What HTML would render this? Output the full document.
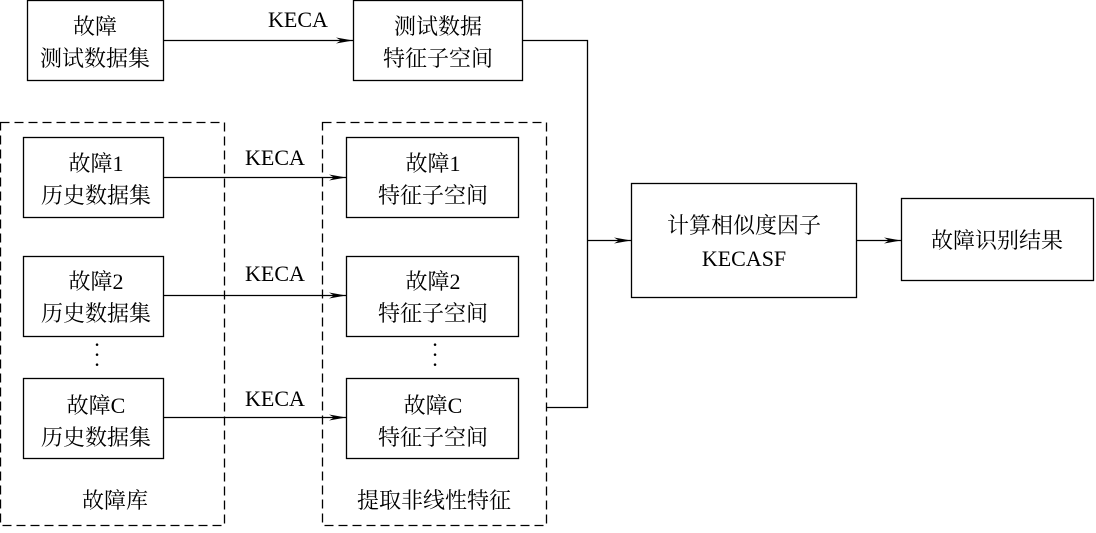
<!DOCTYPE html>
<html><head><meta charset="utf-8"><style>
body{margin:0;background:#fff;}
</style></head><body>
<svg width="1096" height="528" viewBox="0 0 1096 528">
<defs><marker id="a" markerWidth="18" markerHeight="8" refX="17" refY="4" orient="auto" markerUnits="userSpaceOnUse"><path d="M0,1 L17,4 L0,7 L5,4 Z" fill="#000"/></marker></defs>
<g fill="none" stroke="#000" stroke-width="1.3">
<rect x="27.5" y="0.5" width="136" height="80"/>
<rect x="353.5" y="0.5" width="169" height="80"/>
<rect x="0.5" y="122.5" width="224" height="403" stroke-dasharray="9,5"/>
<rect x="322.5" y="122.5" width="224" height="403" stroke-dasharray="9,5"/>
<rect x="23.5" y="137.5" width="140" height="80"/>
<rect x="23.5" y="256.5" width="140" height="80"/>
<rect x="23.5" y="378.5" width="140" height="80"/>
<rect x="346.5" y="137.5" width="172" height="80"/>
<rect x="346.5" y="256.5" width="172" height="80"/>
<rect x="346.5" y="378.5" width="172" height="80"/>
<rect x="631.5" y="183.5" width="225" height="114"/>
<rect x="901.5" y="198.5" width="192" height="82"/>
<line x1="163" y1="40.5" x2="353" y2="40.5" marker-end="url(#a)"/>
<line x1="163" y1="177.5" x2="346" y2="177.5" marker-end="url(#a)"/>
<line x1="163" y1="295.5" x2="346" y2="295.5" marker-end="url(#a)"/>
<line x1="163" y1="417.5" x2="346" y2="417.5" marker-end="url(#a)"/>
<polyline points="522,40.5 587.5,40.5 587.5,407.5 547,407.5"/>
<line x1="587" y1="240.5" x2="631" y2="240.5" marker-end="url(#a)"/>
<line x1="856" y1="240.5" x2="901" y2="240.5" marker-end="url(#a)"/>
</g>
<g font-family="Liberation Serif, Noto Serif CJK SC, Noto Sans CJK SC, serif" font-size="22" text-anchor="middle" fill="#000">
<text x="95" y="34">故障</text><text x="95" y="66">测试数据集</text>
<text x="298" y="27">KECA</text>
<text x="438" y="34">测试数据</text><text x="438" y="66">特征子空间</text>
<text x="275" y="165">KECA</text><text x="275" y="281">KECA</text><text x="275" y="406">KECA</text>
<text x="96" y="171">故障1</text><text x="96" y="203">历史数据集</text>
<text x="96" y="289">故障2</text><text x="96" y="321">历史数据集</text>
<text x="96" y="413">故障C</text><text x="96" y="445">历史数据集</text>
<text x="433" y="171">故障1</text><text x="433" y="203">特征子空间</text>
<text x="433" y="289">故障2</text><text x="433" y="321">特征子空间</text>
<text x="433" y="413">故障C</text><text x="433" y="445">特征子空间</text>
<text x="97" y="352">·</text><text x="97" y="362">·</text><text x="97" y="372">·</text>
<text x="435" y="352">·</text><text x="435" y="362">·</text><text x="435" y="372">·</text>
<text x="744" y="233">计算相似度因子</text><text x="744" y="266">KECASF</text>
<text x="997" y="248">故障识别结果</text>
<text x="115" y="508">故障库</text>
<text x="434" y="508">提取非线性特征</text>
</g>
</svg>
</body></html>
